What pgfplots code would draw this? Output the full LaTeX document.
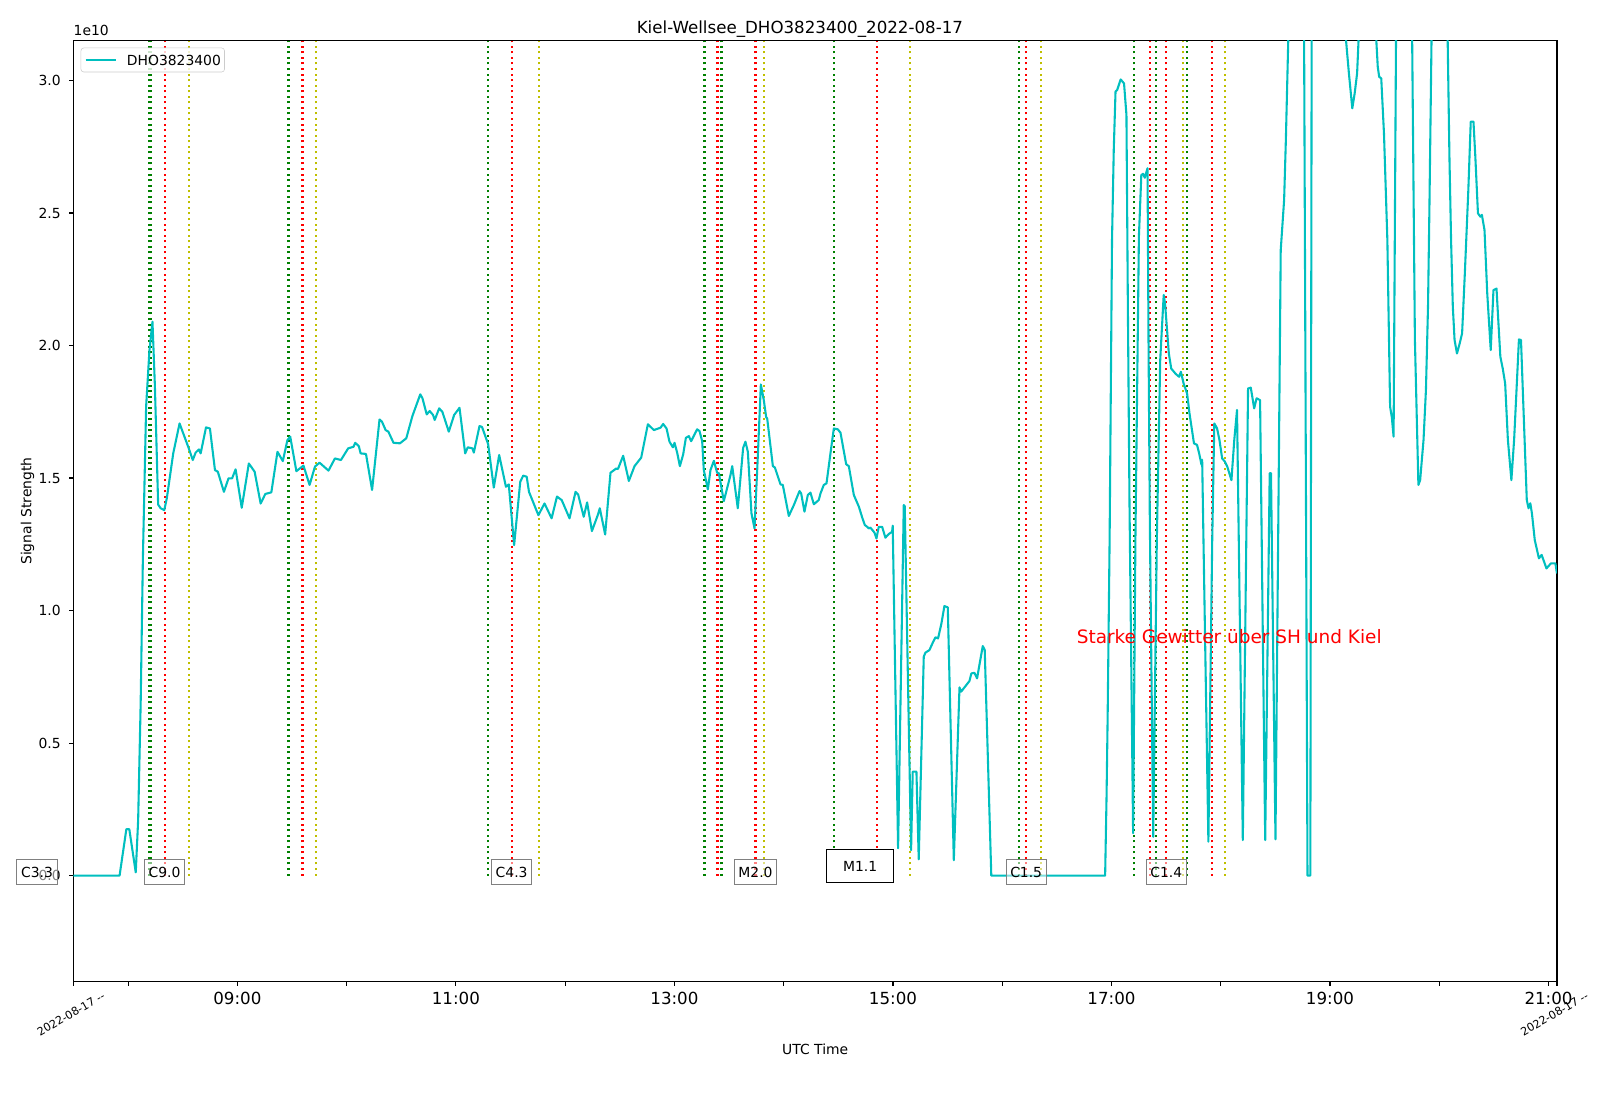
\documentclass[border=0pt]{standalone}
\usepackage{fontspec}
\setmainfont{DejaVu Sans}
\usepackage{pgfplots}
\usepackage{pgfplotstable}
\pgfplotsset{compat=1.18}

\definecolor{mplcyan}{rgb}{0,0.75,0.75}
\definecolor{mplgreen}{rgb}{0,0.5,0}
\definecolor{mplyellow}{rgb}{0.75,0.75,0}

\pgfplotstableread{
t v
7.500 0
7.922 0
7.984 0.175
8.011 0.175
8.070 0.012
8.092 0.21
8.115 0.65
8.135 1.19
8.165 1.77
8.195 1.98
8.223 2.09
8.245 1.85
8.275 1.40
8.298 1.386
8.331 1.379
8.354 1.423
8.413 1.593
8.471 1.706
8.550 1.618
8.592 1.568
8.618 1.596
8.648 1.608
8.664 1.593
8.713 1.691
8.749 1.687
8.795 1.530
8.821 1.524
8.877 1.448
8.919 1.499
8.952 1.499
8.984 1.533
9.040 1.388
9.105 1.555
9.158 1.524
9.213 1.404
9.256 1.440
9.311 1.446
9.367 1.599
9.416 1.564
9.458 1.643
9.484 1.656
9.540 1.526
9.605 1.547
9.661 1.474
9.710 1.543
9.752 1.558
9.834 1.528
9.893 1.574
9.948 1.568
10.014 1.612
10.063 1.618
10.079 1.633
10.112 1.620
10.128 1.593
10.177 1.591
10.233 1.455
10.301 1.721
10.323 1.713
10.357 1.681
10.382 1.675
10.429 1.633
10.488 1.631
10.546 1.650
10.602 1.734
10.674 1.816
10.694 1.801
10.733 1.740
10.760 1.753
10.791 1.738
10.806 1.719
10.847 1.763
10.876 1.750
10.935 1.675
10.984 1.738
11.033 1.765
11.085 1.593
11.109 1.616
11.151 1.612
11.164 1.596
11.216 1.696
11.239 1.693
11.295 1.628
11.347 1.464
11.396 1.587
11.458 1.467
11.484 1.476
11.533 1.247
11.589 1.486
11.616 1.509
11.648 1.505
11.669 1.448
11.755 1.360
11.811 1.404
11.876 1.348
11.925 1.430
11.968 1.417
11.984 1.402
12.040 1.348
12.095 1.448
12.119 1.438
12.170 1.354
12.201 1.408
12.245 1.300
12.301 1.363
12.317 1.386
12.366 1.287
12.415 1.520
12.467 1.536
12.483 1.534
12.531 1.584
12.583 1.489
12.635 1.545
12.696 1.577
12.757 1.703
12.812 1.681
12.873 1.690
12.897 1.704
12.928 1.687
12.955 1.637
12.986 1.616
13.001 1.633
13.025 1.596
13.050 1.545
13.080 1.589
13.105 1.652
13.132 1.658
13.153 1.639
13.208 1.684
13.230 1.677
13.254 1.639
13.269 1.530
13.306 1.457
13.330 1.530
13.361 1.565
13.391 1.520
13.407 1.518
13.452 1.413
13.513 1.511
13.529 1.545
13.580 1.386
13.629 1.614
13.650 1.637
13.672 1.599
13.705 1.367
13.733 1.310
13.763 1.580
13.791 1.853
13.818 1.794
13.840 1.729
13.849 1.725
13.901 1.545
13.919 1.540
13.971 1.476
13.992 1.474
14.047 1.357
14.093 1.398
14.145 1.451
14.160 1.442
14.190 1.373
14.221 1.436
14.245 1.445
14.276 1.401
14.321 1.417
14.337 1.442
14.367 1.474
14.392 1.480
14.428 1.593
14.459 1.687
14.495 1.684
14.520 1.671
14.572 1.552
14.596 1.545
14.642 1.436
14.688 1.392
14.718 1.352
14.742 1.323
14.764 1.316
14.779 1.310
14.794 1.313
14.831 1.294
14.849 1.272
14.870 1.316
14.901 1.316
14.931 1.275
14.962 1.289
14.992 1.297
14.998 1.320
15.047 0.103
15.099 1.398
15.108 1.394
15.166 0.096
15.181 0.392
15.215 0.392
15.236 0.061
15.282 0.826
15.297 0.841
15.334 0.851
15.368 0.882
15.389 0.899
15.413 0.895
15.444 0.952
15.471 1.017
15.502 1.012
15.557 0.058
15.609 0.710
15.624 0.694
15.664 0.715
15.700 0.734
15.718 0.763
15.746 0.765
15.770 0.744
15.794 0.801
15.822 0.866
15.840 0.851
15.900 0
16.942 0
16.955 0.30
16.965 0.60
16.983 1.27
17.005 2.40
17.021 2.74
17.037 2.958
17.052 2.964
17.084 3.004
17.115 2.989
17.137 2.870
17.150 2.15
17.165 1.40
17.198 0.16
17.219 1.266
17.251 2.411
17.273 2.643
17.289 2.648
17.305 2.633
17.320 2.655
17.330 2.669
17.339 2.02
17.351 1.34
17.382 0.146
17.415 1.266
17.446 1.945
17.478 2.191
17.490 2.16
17.525 1.970
17.547 1.913
17.588 1.893
17.619 1.882
17.635 1.901
17.660 1.857
17.692 1.819
17.714 1.744
17.755 1.631
17.783 1.625
17.802 1.594
17.824 1.550
17.830 1.569
17.887 0.128
17.922 1.266
17.941 1.706
17.966 1.688
17.988 1.644
18.013 1.574
18.038 1.562
18.060 1.543
18.098 1.492
18.124 1.644
18.149 1.757
18.202 0.134
18.250 1.838
18.275 1.841
18.306 1.763
18.328 1.801
18.360 1.794
18.407 0.134
18.448 1.518
18.460 1.518
18.501 0.137
18.549 2.360
18.580 2.549
18.596 2.775
18.618 3.153
18.640 3.6
18.740 3.6
18.763 3.15
18.794 0.0
18.820 0.0
18.832 3.15
18.860 3.6
19.120 3.6
19.147 3.15
19.173 3.027
19.204 2.895
19.226 2.952
19.248 3.027
19.261 3.15
19.290 3.6
19.400 3.6
19.424 3.15
19.437 3.052
19.450 3.014
19.469 3.008
19.494 2.80
19.525 2.398
19.550 1.769
19.566 1.729
19.582 1.656
19.604 3.15
19.630 3.6
19.730 3.6
19.752 3.15
19.777 2.021
19.809 1.474
19.825 1.492
19.856 1.644
19.878 1.832
19.897 2.147
19.910 2.524
19.929 3.15
19.950 3.6
20.060 3.6
20.077 3.15
20.093 2.713
20.108 2.398
20.124 2.147
20.140 2.021
20.162 1.970
20.187 2.008
20.209 2.046
20.234 2.272
20.266 2.587
20.288 2.845
20.313 2.845
20.330 2.713
20.354 2.499
20.376 2.486
20.390 2.493
20.414 2.436
20.439 2.197
20.471 1.983
20.496 2.209
20.524 2.215
20.540 2.096
20.559 1.958
20.581 1.913
20.603 1.857
20.628 1.644
20.660 1.492
20.685 1.644
20.707 1.832
20.729 2.023
20.748 2.021
20.770 1.769
20.801 1.417
20.817 1.386
20.833 1.405
20.848 1.367
20.874 1.266
20.912 1.197
20.937 1.210
20.981 1.159
21.022 1.178
21.063 1.178
21.077 1.14
}\dho

\newcommand{\vl}[2]{\addplot[#1, line width=1.5bp, dash pattern=on 1.5bp off 2.5bp, forget plot] coordinates {(#2,0) (#2,3.15)};}

\tikzset{
  flare/.style={draw=black!50, line width=0.7bp, fill=white, fill opacity=0.5, text opacity=1,
    font=\fontsize{10bp}{12bp}\selectfont, inner xsep=3bp, inner ysep=0pt, minimum height=18.4bp, anchor=center},
}

\begin{document}
\begin{tikzpicture}
\begin{axis}[
  at={(0,0)}, anchor=south west,
  scale only axis, width=1068.1bp, height=677.4bp,
  xmin=7.5, xmax=21.077, ymin=-0.4, ymax=3.15,
  clip mode=individual,
  axis line style={line width=0.8bp},
  every tick/.style={black, line width=0.8bp},
  major tick length=3bp, minor tick length=3bp,
  tick align=outside,
  xtick pos=bottom, ytick pos=left,
  xtick={9,11,13,15,17,19,21},
  xticklabels={09:00,11:00,13:00,15:00,17:00,19:00,21:00},
  minor xtick={8,10,12,14,16,18,20},
  extra x ticks={7.5,21.077},
  extra x tick labels={},
  ytick={0,0.5,1,1.5,2,2.5,3},
  yticklabels={0.0,0.5,1.0,1.5,2.0,2.5,3.0},
  xticklabel style={font=\fontsize{12bp}{14bp}\selectfont, anchor=north, inner sep=0pt, yshift=-4.5bp},
  yticklabel style={font=\fontsize{10bp}{12bp}\selectfont, anchor=east, inner sep=0pt, xshift=-6bp},
  xlabel={UTC Time},
  ylabel={Signal Strength},
  xlabel style={at={(axis description cs:0.5,-0.0716)}, anchor=center, font=\fontsize{10bp}{12bp}\selectfont},
  ylabel style={at={(axis description cs:-0.031,0.5)}, anchor=center, font=\fontsize{10bp}{12bp}\selectfont},
  legend style={at={(rel axis cs:0,1)}, anchor=north west, xshift=5.2bp, yshift=-5bp,
    draw=black!20, rounded corners=2bp, fill=white, fill opacity=0.8, text opacity=1,
    inner xsep=2.6bp, inner ysep=5bp, font=\fontsize{10bp}{12bp}\selectfont,
    nodes={inner sep=0pt, text height=7.3bp, text depth=0pt}, column sep=7.4bp},
  legend image code/.code={\draw[#1] (0bp,0bp) -- (21.6bp,0bp);},
]
% flare event lines: green = start, red = peak, yellow = end
\vl{mplgreen}{8.193}
\vl{mplgreen}{8.207}
\vl{red}{8.334}
\vl{mplyellow}{8.554}
\vl{mplgreen}{9.468}
\vl{red}{9.596}
\vl{mplyellow}{9.716}
\vl{mplgreen}{11.298}
\vl{red}{11.510}
\vl{mplyellow}{11.762}
\vl{mplgreen}{13.275}
\vl{red}{13.394}
\vl{mplgreen}{13.431}
\vl{red}{13.742}
\vl{mplyellow}{13.822}
\vl{mplgreen}{14.457}
\vl{red}{14.850}
\vl{mplyellow}{15.160}
\vl{mplgreen}{16.157}
\vl{red}{16.219}
\vl{mplyellow}{16.356}
\vl{mplgreen}{17.207}
\vl{red}{17.356}
\vl{mplgreen}{17.411}
\vl{red}{17.502}
\vl{mplyellow}{17.658}
\vl{mplgreen}{17.694}
\vl{red}{17.923}
\vl{mplyellow}{18.042}

\addplot[mplcyan, line width=1.5bp, line join=round] table[x=t, y=v] {\dho};
\addlegendentry{DHO3823400}

\node[flare] at (axis cs:8.334,0.013) {C9.0};
\node[flare] at (axis cs:11.510,0.013) {C4.3};
\node[flare] at (axis cs:13.742,0.013) {M2.0};
\node[flare] at (axis cs:16.219,0.013) {C1.5};
\node[flare] at (axis cs:17.502,0.013) {C1.4};
\node[draw=black, line width=0.8bp, fill=white, font=\fontsize{10bp}{12bp}\selectfont,
  minimum width=47.9bp, minimum height=24.3bp, inner sep=0pt] at (axis cs:14.700,0.036) {M1.1};
\node[anchor=base west, text=red, font=\fontsize{13.3bp}{16bp}\selectfont, inner sep=0pt] at (axis cs:16.680,0.876) {Starke Gewitter über SH und Kiel};

\coordinate (c33) at (axis cs:7.166,0.013);
\node[anchor=base west, font=\fontsize{10bp}{12bp}\selectfont, inner sep=0pt] at ([yshift=3.5bp]rel axis cs:0,1) {1e10};
\node[anchor=base, font=\fontsize{12bp}{14bp}\selectfont, inner sep=0pt] at ([yshift=5bp]rel axis cs:0.4897,1) {Kiel-Wellsee\_DHO3823400\_2022-08-17};
\node[rotate=30, anchor=center, font=\fontsize{8bp}{10bp}\selectfont, inner sep=0pt] at ([xshift=-1.8bp,yshift=-23.3bp]rel axis cs:0,0) {2022-08-17 -{}-};
\node[rotate=30, anchor=center, font=\fontsize{8bp}{10bp}\selectfont, inner sep=0pt] at ([xshift=-1.8bp,yshift=-23.3bp]rel axis cs:1,0) {2022-08-17 -{}-};
\end{axis}
\node[flare] at (c33) {C3.3};
\pgfresetboundingbox
\path[use as bounding box] (-52.9bp,-86.7bp) rectangle (1099.1bp,706.75bp);
\end{tikzpicture}
\end{document}
